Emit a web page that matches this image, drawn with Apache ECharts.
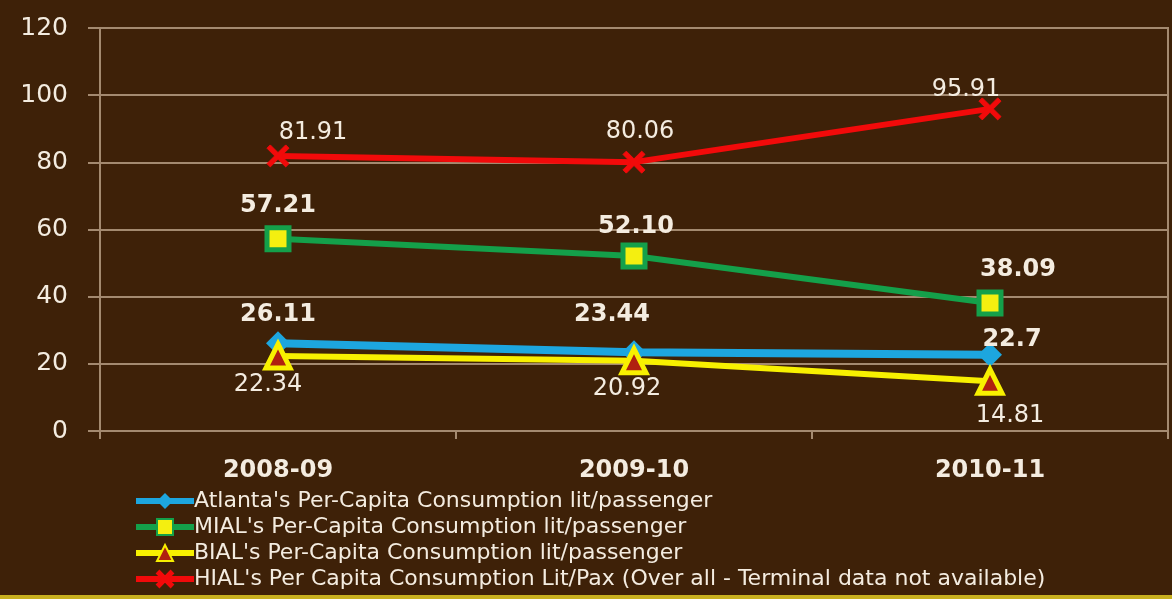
<!DOCTYPE html>
<html><head><meta charset="utf-8">
<script src="https://cdn.jsdelivr.net/npm/echarts@6/dist/echarts.min.js"></script>
<style>html,body{margin:0;padding:0;background:#3e2108;}#c{width:1172px;height:599px;}</style>
</head><body><div id="c"></div>
<script>
const categories = ['2008-09', '2009-10', '2010-11'];
const yTicks = [0, 20, 40, 60, 80, 100, 120];
const seriesNames = [
  "Atlanta's Per-Capita Consumption lit/passenger",
  "MIAL's Per-Capita Consumption lit/passenger",
  "BIAL's Per-Capita Consumption lit/passenger",
  "HIAL's Per Capita Consumption Lit/Pax (Over all - Terminal data not available)"
];
const atlanta = [26.11, 23.44, 22.7];
const mial = [57.21, 52.10, 38.09];
const bial = [22.34, 20.92, 14.81];
const hial = [81.91, 80.06, 95.91];
const atlantaText = ['26.11', '23.44', '22.7'];
const mialText = ['57.21', '52.10', '38.09'];
const bialText = ['22.34', '20.92', '14.81'];
const hialText = ['81.91', '80.06', '95.91'];

// label offsets (styling only)
const atlantaOff = [[0, 1], [-22, -8], [22, 15]];
const mialOff = [[0, 0], [2, 4], [28, 0]];
const bialOff = [[-10, -2], [-7, -2], [20, 4]];
const hialOff = [[35, 6], [6, -1], [-24, 10]];

const textCol = '#f4ece0';
const xPath = 'path://M3,0 L10,7 L17,0 L20,3 L13,10 L20,17 L17,20 L10,13 L3,20 L0,17 L7,10 L0,3 Z';

function mk(vals, texts, offs, pos, bold) {
  return vals.map((v, i) => ({
    value: v,
    label: { offset: offs[i], position: pos, fontWeight: bold ? 'bold' : 'normal',
      formatter: texts[i] }
  }));
}

const chart = echarts.init(document.getElementById('c'), null, {renderer: 'canvas'});
chart.setOption({
  backgroundColor: '#3e2108',
  animation: false,
  textStyle: { fontFamily: 'DejaVu Sans' },
  grid: { left: 100, right: 4, top: 28, bottom: 168, show: true, borderColor: '#a48a70', borderWidth: 2 },
  xAxis: {
    type: 'category', data: categories, boundaryGap: true,
    axisLine: { show: true, lineStyle: { color: '#a48a70', width: 2 } },
    axisTick: { show: true, length: 8, lineStyle: { color: '#a48a70', width: 2 } },
    axisLabel: { color: textCol, fontSize: 24, fontWeight: 'bold', margin: 28, fontFamily: 'DejaVu Sans' }
  },
  yAxis: {
    type: 'value', min: yTicks[0], max: yTicks[yTicks.length - 1], interval: 20,
    axisLine: { show: true, lineStyle: { color: '#a48a70', width: 2 } },
    axisTick: { show: true, length: 12, lineStyle: { color: '#a48a70', width: 2 } },
    splitLine: { lineStyle: { color: '#a48a70', width: 2 } },
    axisLabel: { color: textCol, fontSize: 25, margin: 32, fontFamily: 'DejaVu Sans' }
  },
  legend: {
    orient: 'vertical', left: 128, top: 485, itemGap: 4, itemWidth: 58, itemHeight: 20,
    lineStyle: { width: 6 },
    textStyle: { color: textCol, fontSize: 22, fontFamily: 'DejaVu Sans', padding: [0, 0, 0, -5] },
    data: seriesNames
  },
  series: [
    {
      name: seriesNames[0], type: 'line', data: mk(atlanta, atlantaText, atlantaOff, 'top', true),
      symbol: 'diamond', symbolSize: 24,
      lineStyle: { color: '#1da6df', width: 8 },
      itemStyle: { color: '#1da6df', borderColor: '#1da6df', borderWidth: 0 },
      label: { show: true, color: textCol, fontSize: 24, distance: 6 }, z: 3
    },
    {
      name: seriesNames[1], type: 'line', data: mk(mial, mialText, mialOff, 'top', true),
      symbol: 'rect', symbolSize: 22,
      lineStyle: { color: '#14a04a', width: 6 },
      itemStyle: { color: '#f4ef10', borderColor: '#14a04a', borderWidth: 5 },
      label: { show: true, color: textCol, fontSize: 24, distance: 8 }, z: 3
    },
    {
      name: seriesNames[2], type: 'line', data: mk(bial, bialText, bialOff, 'bottom', false),
      symbol: 'triangle', symbolSize: 24,
      lineStyle: { color: '#f8f000', width: 6 },
      itemStyle: { color: '#b02010', borderColor: '#f8f000', borderWidth: 5 },
      label: { show: true, color: textCol, fontSize: 24, distance: 4 }, z: 4
    },
    {
      name: seriesNames[3], type: 'line', data: mk(hial, hialText, hialOff, 'top', false),
      symbol: xPath, symbolSize: 22,
      lineStyle: { color: '#f20a0a', width: 6 },
      itemStyle: { color: '#f20a0a', borderColor: '#f20a0a', borderWidth: 1 },
      label: { show: true, color: textCol, fontSize: 24, distance: 6 }, z: 3
    }
  ],
  graphic: [
    { type: 'rect', left: 0, top: 595, shape: { width: 1172, height: 4 }, style: { fill: '#c8b020' }, silent: true }
  ]
});
</script></body></html>
